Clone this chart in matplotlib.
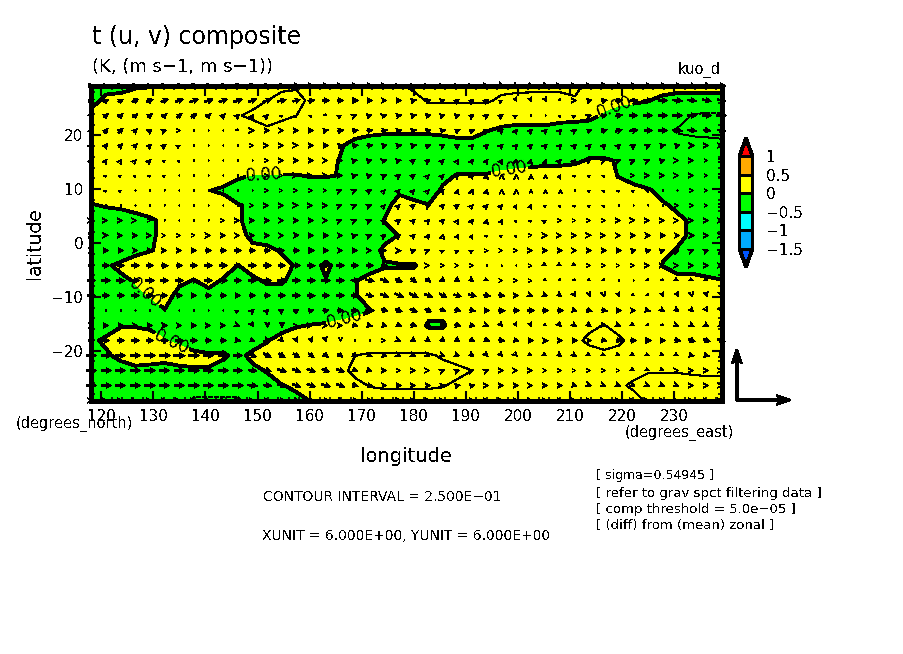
#t (u,v) composite, contour + wind vectors on the T42 grid
import numpy as np
import matplotlib
matplotlib.use("Agg")
from matplotlib import pyplot as plt

plt.rcParams.update({'font.family':'DejaVu Sans','text.antialiased':False,
                     'lines.antialiased':False,'patch.antialiased':False})

lons=[118.125,120.9375,123.75,126.5625,129.375,132.1875,135.0,137.8125,140.625,143.4375,146.25,
      149.0625,151.875,154.6875,157.5,160.3125,163.125,165.9375,168.75,171.5625,174.375,177.1875,
      180.0,182.8125,185.625,188.4375,191.25,194.0625,196.875,199.6875,202.5,205.3125,208.125,
      210.9375,213.75,216.5625,219.375,222.1875,225.0,227.8125,230.625,233.4375,236.25,239.0625]
lats=[29.30,26.51,23.72,20.93,18.14,15.35,12.56,9.77,6.98,4.19,1.40,
      -1.40,-4.19,-6.98,-9.77,-12.56,-15.35,-18.14,-20.93,-23.72,-26.51,-29.30]
levels=[-1.5,-1,-0.5,0,0.5,1]
cbar_labels=['\u22121.5','\u22121','\u22120.5','0','0.5','1']
xticks=[120,130,140,150,160,170,180,190,200,210,220,230]
yticks=[-20,-10,0,10,20]
xunit=6.0
yunit=6.0

#temperature, hundredths of K, top row first
t=[
[-15,-15,-15,-4,-2,15,15,15,15,15,15,15,15,20,22,15,15,15,15,15,15,22,30,30,30,30,30,30,30,30,30,30,30,30,20,15,15,15,15,15,15,15,15,15],
[-15,10,15,15,15,15,15,15,15,15,15,20,25,32,32,20,15,15,15,15,15,15,18,27,27,27,27,27,22,20,19,19,19,23,15,12,8,4,1,-8,-15,-15,-15,-15],
[15,15,15,15,15,15,15,15,15,15,24,28,30,30,25,15,15,15,15,15,15,15,15,15,15,15,15,15,15,15,15,15,15,15,10,-5,-15,-15,-15,-15,-15,-26,-27,-27],
[15,15,15,15,15,15,15,15,15,15,15,18,23,16,15,15,15,15,15,8,5,5,5,5,8,15,15,1,-5,-9,-9,-8,-16,-20,-20,-15,-15,-15,-15,-20,-27,-30,-30,-30],
[15,15,15,15,15,15,15,15,15,15,15,15,15,15,15,15,15,3,-12,-15,-15,-15,-15,-15,-15,-15,-15,-15,-15,-15,-15,-15,-15,-15,-15,-15,-15,-15,-15,-15,-16,-17,-19,-21],
[15,15,15,15,15,15,15,15,15,15,15,15,15,15,15,15,10,-2,-15,-15,-15,-15,-15,-15,-15,-15,-15,-15,-15,-15,-15,-8,-8,-5,3,3,-2,-15,-15,-15,-15,-15,-15,-15],
[15,15,15,15,15,15,15,15,15,15,5,-1,-1,-1,-1,2,2,-1,-15,-15,-15,-15,-15,-15,-8,2,2,2,7,12,18,15,15,15,15,15,-2,-15,-15,-15,-15,-15,-15,-15],
[15,15,15,15,15,15,15,15,1,-5,-15,-15,-15,-15,-15,-15,-15,-15,-15,-15,-15,-5,-10,-15,5,15,15,15,15,15,15,15,15,15,15,15,15,11,2,-5,-15,-15,-15,-15],
[-2,2,5,15,15,15,15,15,15,15,2,-5,-15,-15,-15,-15,-15,-15,-15,-15,-9,12,6,1,15,15,15,15,15,15,15,15,15,15,15,15,15,15,15,2,-3,-15,-15,-15],
[-15,-15,-15,-15,-4,6,15,15,15,15,5,-15,-15,-15,-15,-15,-15,-15,-15,-15,1,15,15,15,15,15,15,15,15,15,15,15,15,15,15,15,15,15,15,15,3,-2,-15,-15],
[-15,-15,-15,-15,-5,8,15,15,15,15,7,-5,-15,-15,-15,-15,-15,-15,-15,-15,-8,1,15,15,15,15,15,15,15,15,15,15,15,15,15,15,15,15,15,15,3,-2,-15,-15],
[-15,-15,-15,-8,-1,4,15,15,15,15,15,5,8,-3,-15,-15,-15,-15,-15,-12,5,15,15,15,15,15,15,15,15,15,15,15,15,15,15,15,15,15,15,3,-1,-15,-15,-15],
[-15,-3,5,15,15,15,15,15,15,15,-1,15,15,8,-3,-10,5,-10,-15,-15,-2,-2,-2,10,15,15,15,15,15,15,15,15,15,15,15,15,15,15,15,-1,-15,-15,-15,-15],
[-15,-15,-5,2,15,15,5,-1,10,-3,-15,-7,5,4,-12,-15,-1,-15,-2,12,10,10,10,15,15,15,15,15,15,15,15,15,15,15,15,15,15,15,15,15,12,12,5,1],
[-15,-15,-15,-8,2,10,-8,-15,-10,-15,-15,-15,-15,-15,-15,-15,-15,-15,-2,12,15,15,15,15,15,15,15,15,15,15,15,15,15,15,15,15,15,15,15,15,15,15,15,15],
[-15,-15,-15,-15,-15,-1,-15,-15,-15,-15,-15,-15,-15,-15,-15,-15,-15,-15,-15,-1,12,15,15,5,5,15,15,15,15,15,15,15,15,15,15,15,15,15,15,15,15,15,15,15],
[-15,-15,-2,-2,-5,-15,-15,-15,-15,-15,-15,-15,-15,-15,-2,1,3,8,20,15,15,15,10,-2,-2,10,15,15,15,15,15,15,15,15,20,26,15,15,15,15,15,15,15,15],
[-6,6,15,15,12,2,-8,-15,-15,-15,-15,-15,-2,15,15,15,15,15,15,15,15,15,15,12,12,15,15,15,15,15,15,15,15,20,30,30,30,15,15,15,15,15,15,15],
[-15,-5,9,15,15,15,17,7,3,4,-8,7,15,15,15,15,15,15,25,27,27,27,27,27,23,16,15,15,15,15,15,15,15,15,15,22,15,15,15,15,15,15,15,15],
[-15,-15,-15,-7,-10,-15,-8,-2,-1,-10,-15,-6,2,15,15,15,15,20,30,30,30,30,30,30,30,30,25,15,15,15,15,15,15,15,15,15,15,15,24,24,24,23,22,22],
[-15,-15,-15,-15,-15,-15,-15,-15,-15,-15,-15,-15,-10,-1,4,15,15,15,20,26,28,28,28,28,26,21,15,15,15,15,15,15,15,15,15,15,20,30,30,30,30,30,30,30],
[-15,-15,-15,-15,-15,-15,-15,-28,-28,-28,-28,-15,-15,-15,-5,1,15,15,15,15,15,15,15,15,15,15,15,15,15,15,15,15,15,15,15,15,15,15,30,30,30,30,30,30],
]

#zonal wind, tenths of m/s
u=[
[6,6,6,6,6,6,7,7,7,7,7,6,6,6,6,5,5,5,5,5,5,4,4,4,4,4,4,3,3,2,2,2,3,4,5,6,7,7,8,8,8,8,8,8],
[6,6,6,7,7,8,8,9,9,9,9,9,9,9,8,7,7,6,6,5,5,5,5,5,4,3,3,3,2,1,1,1,1,3,5,6,7,9,10,10,10,9,9,9],
[4,5,5,5,5,5,6,6,5,4,3,2,2,1,1,1,1,2,3,4,4,5,5,5,4,4,3,3,3,2,1,1,1,2,3,5,7,9,10,10,10,10,10,10],
[3,4,5,4,4,3,2,1,1,1,1,3,4,4,4,5,5,6,6,6,6,5,5,5,5,5,5,4,3,2,3,3,3,3,5,6,7,9,9,10,10,9,8,8],
[3,3,4,4,3,3,2,1,1,1,1,2,3,3,3,4,5,5,6,6,5,5,5,5,4,4,3,3,3,3,3,3,3,3,3,3,3,4,4,5,5,4,3,3],
[2,2,2,2,2,1,1,1,1,1,1,1,2,3,4,4,4,4,4,4,4,4,3,3,2,2,2,2,2,1,1,1,2,2,2,3,3,3,3,4,3,3,2,2],
[1,1,1,1,1,1,1,1,1,1,1,1,2,2,3,3,4,4,4,4,4,3,3,2,2,2,2,1,0,0,0,0,1,1,1,1,2,2,3,3,3,3,2,2],
[1,1,1,1,0,0,0,0,0,0,1,1,2,2,2,2,2,3,3,3,2,2,2,2,2,1,1,1,0,0,0,0,0,0,1,1,1,1,1,1,1,2,2,2],
[1,1,1,1,1,1,1,1,1,1,1,2,3,3,3,3,3,3,3,3,2,2,3,4,3,3,2,2,2,1,1,1,1,1,1,1,1,1,1,1,2,2,2,2],
[3,3,3,3,2,1,1,1,1,2,3,4,4,4,4,4,4,3,3,3,3,3,3,3,3,2,2,1,1,1,1,2,2,2,2,2,3,3,3,3,3,3,3,3],
[4,4,4,4,3,2,2,2,3,4,4,4,4,4,5,5,5,5,4,3,3,3,3,2,1,1,1,1,1,1,2,3,3,3,3,3,4,4,4,5,5,4,3,3],
[5,5,5,5,5,4,4,5,6,6,7,7,7,6,6,6,6,5,5,4,4,4,4,3,2,2,2,2,2,2,3,4,4,4,4,4,5,5,5,4,3,3,3,3],
[7,7,8,8,8,7,7,8,8,8,8,8,8,8,8,8,8,8,7,7,6,5,4,3,2,2,2,1,1,1,2,2,2,2,2,2,2,2,3,3,3,3,3,3],
[9,9,9,9,9,9,9,9,8,8,8,9,9,9,9,9,9,8,9,9,9,7,6,5,4,4,3,2,2,2,2,1,1,1,1,1,0,0,1,1,2,2,2,2],
[8,8,8,8,7,6,6,6,6,6,6,6,7,7,8,8,8,8,8,8,9,9,9,9,8,8,8,7,6,5,3,3,3,2,1,1,1,1,1,1,1,1,1,1],
[1,1,1,1,1,0,1,1,1,1,2,3,3,4,5,5,6,6,7,9,7,7,8,7,6,6,6,6,7,7,7,6,6,4,6,6,6,5,4,3,3,3,2,2],
[5,5,5,5,5,5,5,5,4,4,3,2,0,0,2,3,4,5,5,5,5,5,6,5,6,6,5,3,2,1,1,1,2,3,3,4,3,2,1,1,3,4,4,4],
[7,7,8,8,8,8,8,8,7,6,5,5,4,3,2,1,1,0,0,1,2,3,4,4,4,4,5,5,6,5,5,5,4,5,5,5,6,6,6,6,6,7,7,8],
[11,11,11,11,12,12,12,11,11,10,9,8,8,7,7,6,5,5,5,5,5,3,3,3,3,3,3,2,2,2,2,2,3,3,2,2,2,2,2,2,2,4,5,5],
[11,11,11,11,11,11,11,11,11,11,10,9,8,9,9,9,8,8,5,4,4,2,3,3,3,3,3,3,3,3,3,2,2,2,2,2,2,2,2,2,3,3,3,3],
[11,11,11,11,11,11,11,11,11,11,11,10,9,9,9,9,9,9,6,6,5,5,4,4,5,5,5,3,4,4,4,4,4,4,3,3,3,3,3,3,3,3,3,3],
[3,3,3,3,3,3,3,3,3,4,4,5,5,6,6,6,6,6,6,5,5,4,4,4,4,4,4,4,4,4,4,4,4,4,4,3,3,3,3,3,3,3,3,3],
]

#meridional wind, tenths of m/s
v=[
[2,2,2,2,2,2,2,2,1,1,1,1,1,1,0,0,0,0,0,0,0,1,1,1,1,1,1,0,-1,-1,-1,-1,0,0,0,0,0,0,0,0,-1,-1,-1,-1],
[3,3,3,3,3,3,3,3,3,3,3,3,3,2,2,1,0,0,0,0,0,0,1,1,1,2,2,2,1,-2,-2,-2,-1,0,1,1,1,1,0,0,-1,-1,-2,-2],
[3,4,4,4,4,4,4,4,4,4,3,3,2,1,1,1,-1,1,1,1,1,1,1,1,1,1,2,2,2,1,0,0,1,1,1,1,1,0,0,0,0,0,0,0],
[4,5,5,4,3,1,0,0,0,0,-1,0,0,0,0,0,1,1,1,1,1,1,1,1,1,2,2,2,3,3,3,3,3,2,2,2,2,1,0,0,-1,-1,-1,-1],
[3,4,4,4,3,2,1,0,0,0,0,0,0,0,0,0,0,1,1,1,1,1,1,2,2,3,3,3,3,3,3,3,3,3,3,3,3,3,2,1,1,0,0,0],
[2,3,3,2,2,1,1,0,0,0,0,0,0,0,0,0,0,0,1,1,1,1,2,2,2,3,3,3,3,3,3,3,2,2,1,1,1,1,1,1,0,0,0,0],
[1,1,1,1,1,1,0,0,0,0,0,0,0,0,0,0,0,0,1,1,2,2,2,2,2,2,3,3,3,3,3,2,2,1,1,1,1,0,0,0,0,0,0,0],
[1,1,1,0,0,0,0,0,0,0,0,0,0,0,0,0,0,1,1,2,2,2,2,2,3,3,3,3,3,3,2,2,2,1,1,1,1,1,1,0,0,0,0,0],
[0,0,0,0,0,0,0,0,0,0,0,0,0,0,0,0,0,1,1,1,2,2,2,2,3,2,2,2,2,2,2,1,1,1,1,1,0,0,0,0,0,0,0,0],
[0,0,0,0,0,0,0,0,0,0,0,0,0,0,0,0,0,1,1,1,2,2,3,3,3,3,3,3,2,1,1,1,0,0,0,0,0,0,0,0,0,0,0,0],
[0,0,0,0,0,0,0,0,0,0,0,0,0,0,0,0,0,0,1,1,2,2,3,3,3,2,2,1,1,1,0,0,0,0,0,0,0,0,0,0,0,0,0,0],
[0,0,0,0,0,0,0,0,0,0,0,0,0,0,0,0,0,0,0,0,0,0,1,1,1,1,1,0,0,0,0,0,0,0,0,0,0,1,1,1,1,1,1,1],
[0,0,0,0,0,0,0,0,0,0,0,0,0,0,0,0,0,0,0,0,0,0,0,0,0,0,0,0,0,0,0,-1,-1,-1,0,0,0,0,0,0,0,0,0,0],
[0,0,0,0,0,0,0,0,0,0,0,0,0,0,0,0,0,0,-1,-2,-3,-3,-4,-4,-3,-3,-2,-1,0,0,0,-1,-1,-1,-1,-1,-1,-1,-1,-1,-1,-1,-1,-1],
[0,0,0,0,0,0,0,0,0,0,0,0,0,0,0,0,0,0,0,-2,-3,-4,-4,-3,-4,-2,-2,-1,-1,0,-1,-1,-2,-3,-3,-3,-2,-1,-1,-2,-2,-3,-3,-3],
[0,0,0,0,0,0,0,0,0,0,1,3,3,3,3,1,1,0,0,0,-2,-3,-3,-3,-3,-2,-1,0,0,0,0,0,0,-1,-2,-1,0,0,-1,-2,-2,-3,-3,-3],
[0,0,0,0,0,0,0,0,0,0,-1,-3,-4,-4,0,0,0,0,-1,-1,-1,-2,-2,-2,-2,-2,-1,-1,-2,-2,-2,-1,-2,-2,-2,-1,-1,-1,-1,-1,-1,-2,-2,-2],
[0,0,0,0,0,0,0,0,0,0,-1,-2,-2,-3,-4,-4,-3,-2,0,0,0,-1,-3,-3,-3,-3,-3,-2,-1,-1,0,0,0,0,0,-1,-1,0,0,0,-1,-3,-3,-3],
[0,0,0,0,0,0,0,0,0,0,0,-3,-4,-4,-4,-4,-4,-4,-3,-3,-1,-1,-1,-1,-1,-1,-2,-2,-2,-2,-1,-1,-2,-2,-1,-1,-1,-1,-1,-1,-1,-1,-1,-1],
[0,0,0,0,0,0,0,0,0,0,0,-1,-2,-3,-3,-3,-3,-3,-2,-1,0,0,0,0,1,1,1,1,0,0,0,0,0,0,0,0,0,-1,-1,-1,0,0,0,0],
[0,0,0,0,0,0,0,0,0,0,0,-1,-1,-2,-3,-3,-3,-3,-2,-1,0,0,0,0,1,1,1,0,0,0,0,0,0,-1,-1,-1,-1,-1,-1,-1,-1,0,0,0],
[0,0,0,0,0,0,0,0,0,0,0,0,0,-1,-1,-1,-1,-1,-1,0,0,0,0,0,0,0,0,0,0,0,0,0,0,0,0,0,0,0,0,0,0,0,0,0],
]

W,H=904,654
fig=plt.figure(figsize=(W/100,H/100),dpi=100)
ax=fig.add_axes([91.5/W,1-400.5/H,630/W,315/H])

def label(x,y,s,size,ha='left',va='center',**kw):
    fig.text(x/W,1-y/H,s,fontsize=size,ha=ha,va=va,**kw)

lon=np.array(lons)
lat=np.array(lats)
T=np.array(t)/100.
U=np.array(u)/10.
V=np.array(v)/10.

cols=['#0055ff','#00aaff','#00ffff','#00ff00','#ffff00','#ffaa00','#ff0000']
cf=ax.contourf(lon,lat,T,levels=levels,colors=cols,extend='both',antialiased=False)
cs=ax.contour(lon,lat,T,levels=[0],colors='k',linewidths=2,antialiased=False)
ax.contour(lon,lat,T,levels=[-0.25,0.25],colors='k',linewidths=0.8,
           linestyles=['dashed','solid'],antialiased=False)
ax.clabel(cs,fmt='%.2f',fontsize=12,inline=True,inline_spacing=1,
          manual=[(151.3,12.7),(198.4,13.4),(218.9,24.2),(128.7,-9.1),(133.5,-18.4),(166.7,-13.9)])

LON,LAT=np.meshgrid(lon,lat)
qv=ax.quiver(LON,LAT,U,V,angles='uv',pivot='mid',units='dots',width=1.6,
             scale=10.7,scale_units='inches',headwidth=3.2,headlength=3.2,headaxislength=2.8,
             minshaft=0.5,minlength=0.8,color='k',antialiased=False,zorder=4)
qv.set_clip_on(False)

ax.set_xlim(lons[0],lons[-1])
ax.set_ylim(lats[-1],lats[0])
ax.set_xticks(xticks)
ax.set_xticklabels([str(x) for x in xticks],fontsize=11)
ax.set_yticks(yticks)
ax.set_yticklabels([str(y).replace('-','\u2212') for y in yticks],fontsize=11)
ax.set_xticks(np.arange(120,240,2),minor=True)
ax.set_yticks(np.arange(-28,30,2),minor=True)
ax.tick_params(which='major',direction='in',top=True,right=True,length=7,width=1.5,pad=6)
ax.tick_params(which='minor',direction='in',top=True,right=True,length=3,width=1.2)
for s in ax.spines.values():
    s.set_linewidth(2.2)
    s.set_zorder(5)

#colorbar
cax=fig.add_axes([739.5/W,1-267/H,13/W,129/H])
cb=fig.colorbar(cf,cax=cax,ticks=levels,extendfrac=0.2,drawedges=True)
cb.ax.set_yticklabels(cbar_labels,fontsize=11)
cb.ax.tick_params(length=0,pad=10)
cb.outline.set_linewidth(2)
cb.dividers.set_linewidth(2)

#unit vectors
orig=(737,H-400)
ax.annotate('',xy=(orig[0]+xunit*56/6,orig[1]),xytext=orig,xycoords='figure pixels',textcoords='figure pixels',
            annotation_clip=False,arrowprops=dict(arrowstyle='->,head_length=0.9,head_width=0.3',lw=1.5,color='k',shrinkA=0,shrinkB=0))
ax.annotate('',xy=(orig[0],orig[1]+yunit*53/6),xytext=orig,xycoords='figure pixels',textcoords='figure pixels',
            annotation_clip=False,arrowprops=dict(arrowstyle='->,head_length=0.9,head_width=0.3',lw=1.5,color='k',shrinkA=0,shrinkB=0))

#text
label(92,37,'t (u, v) composite',17)
label(92,67,'(K, (m s\u22121, m s\u22121))',13)
label(721,70,'kuo_d',10.5,ha='right')
label(35,243,'latitude',13.5,ha='center',rotation=90)
label(406,457,'longitude',14,ha='center')
label(16,424,'(degrees_north)',10.5)
label(625,433,'(degrees_east)',10.5)
label(382,497,'CONTOUR INTERVAL = 2.500E\u221201',10,ha='center')
label(406,536,'XUNIT = 6.000E+00, YUNIT = 6.000E+00',10,ha='center')
label(596,476,'[ sigma=0.54945 ]',9)
label(596,493,'[ refer to grav spct filtering data ]',9.5)
label(596,509,'[ comp threshold = 5.0e\u221205 ]',9.5)
label(596,526,'[ (diff) from (mean) zonal ]',9.5)

fig.savefig('out.png',dpi=100,facecolor='white')
